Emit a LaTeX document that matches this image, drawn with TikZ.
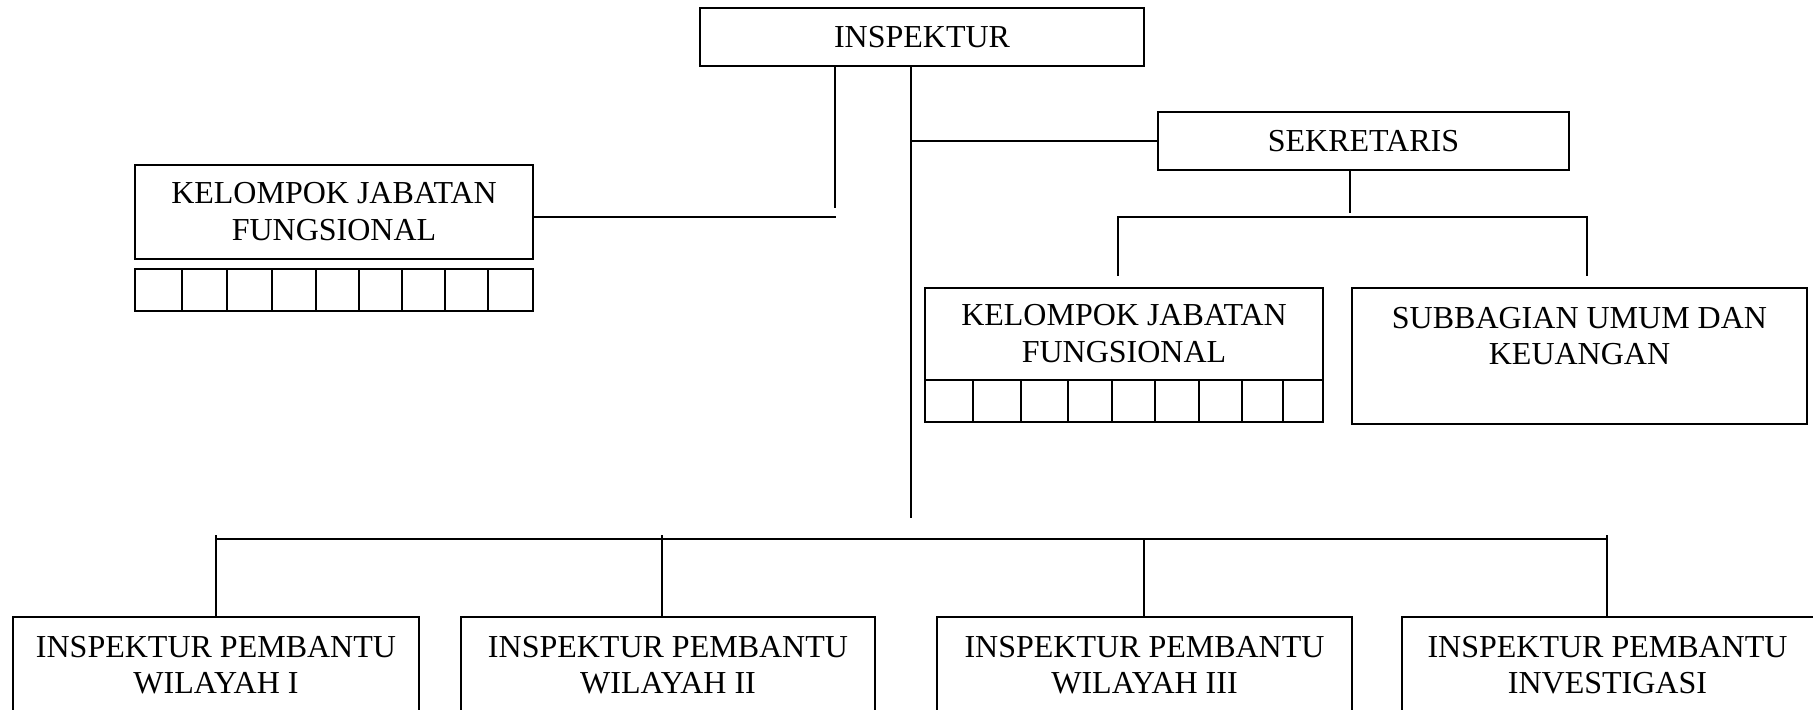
\documentclass[tikz,border=0pt]{standalone}
\usepackage{fontspec}
\setmainfont{Liberation Serif}
\begin{document}
\begin{tikzpicture}[x=0.5pt,y=-0.5pt,
  box/.style={draw,line width=1.15pt,inner sep=0pt,align=center,
    font=\fontsize{16}{18.5}\selectfont},
  txt/.style={inner sep=0pt,align=center,font=\fontsize{16}{18}\selectfont},
  conn/.style={line width=1pt},
  gridline/.style={line width=1pt}]
\useasboundingbox (0,0) rectangle (1813,710);
\clip (0,0) rectangle (1813,710);
% main boxes
\node[box,minimum width=222pt,minimum height=29pt] (insp) at (922,37) {INSPEKTUR};
\node[box,minimum width=205.5pt,minimum height=29pt] (sek) at (1363.5,141) {SEKRETARIS};
\node[box,minimum width=199pt,minimum height=47pt] (kjf1) at (334,212) {KELOMPOK JABATAN\\FUNGSIONAL};
\node[box,minimum width=199pt,minimum height=46pt] (kjf2) at (1124,334) {KELOMPOK JABATAN\\FUNGSIONAL};
\node[box,minimum width=227.5pt,minimum height=68pt] (sub) at (1579.5,356) {};
\node[txt] (subt) at (1579.5,336) {SUBBAGIAN UMUM DAN\\KEUANGAN};
% bottom boxes (cut by the page edge)
\node[box,minimum width=203pt,minimum height=60pt] (b1) at (216,677) {};
\node[box,minimum width=207pt,minimum height=60pt] (b2) at (668,677) {};
\node[box,minimum width=207.5pt,minimum height=60pt] (b3) at (1144.5,677) {};
\node[box,minimum width=209pt,minimum height=60pt] (b4) at (1611,677) {};
\node[txt] (b1t) at (216,665) {INSPEKTUR PEMBANTU\\WILAYAH I};
\node[txt] (b2t) at (668,665) {INSPEKTUR PEMBANTU\\WILAYAH II};
\node[txt] (b3t) at (1144.5,665) {INSPEKTUR PEMBANTU\\WILAYAH III};
\node[txt] (b4t) at (1607.5,665) {INSPEKTUR PEMBANTU\\INVESTIGASI};
% grids
\draw[gridline] (135,269) rectangle (533,311);
\foreach \gx in {182,227,272,316,359,402,445,488}
  \draw[gridline] (\gx,269) -- (\gx,311);
\draw[gridline] (925,380) rectangle (1323,422);
\foreach \gx in {973,1021,1068,1112,1155,1199,1242,1283}
  \draw[gridline] (\gx,380) -- (\gx,422);
% coordinates for connectors
\coordinate (j1) at (835,208);
\coordinate (j2) at (836,217);
\coordinate (t1) at (911,518);
\coordinate (s1) at (1350,213);
\coordinate (sbar) at (0,217);
\coordinate (sa) at (1118,276);
\coordinate (sb) at (1587,276);
\coordinate (bar) at (0,539);
\coordinate (bartop) at (0,535);
\coordinate (x1) at (216,0);
\coordinate (x2) at (662,0);
\coordinate (x3) at (1144,0);
\coordinate (x4) at (1607,0);
% connectors
\draw[conn] (insp.south -| j1) -- (j1);
\draw[conn] (kjf1.east |- j2) -- (j2);
\draw[conn] (insp.south -| t1) -- (t1);
\draw[conn] (sek.west -| t1) -- (sek.west);
\draw[conn] (sek.south -| s1) -- (s1);
\draw[conn] (sa) -- (sa |- sbar) -- (sb |- sbar) -- (sb);
\draw[conn] (x1 |- bar) -- (x4 |- bar);
\draw[conn] (x1 |- bartop) -- (x1 |- b1.north);
\draw[conn] (x2 |- bartop) -- (x2 |- b2.north);
\draw[conn] (x3 |- bar) -- (x3 |- b3.north);
\draw[conn] (x4 |- bartop) -- (x4 |- b4.north);
\end{tikzpicture}
\end{document}
